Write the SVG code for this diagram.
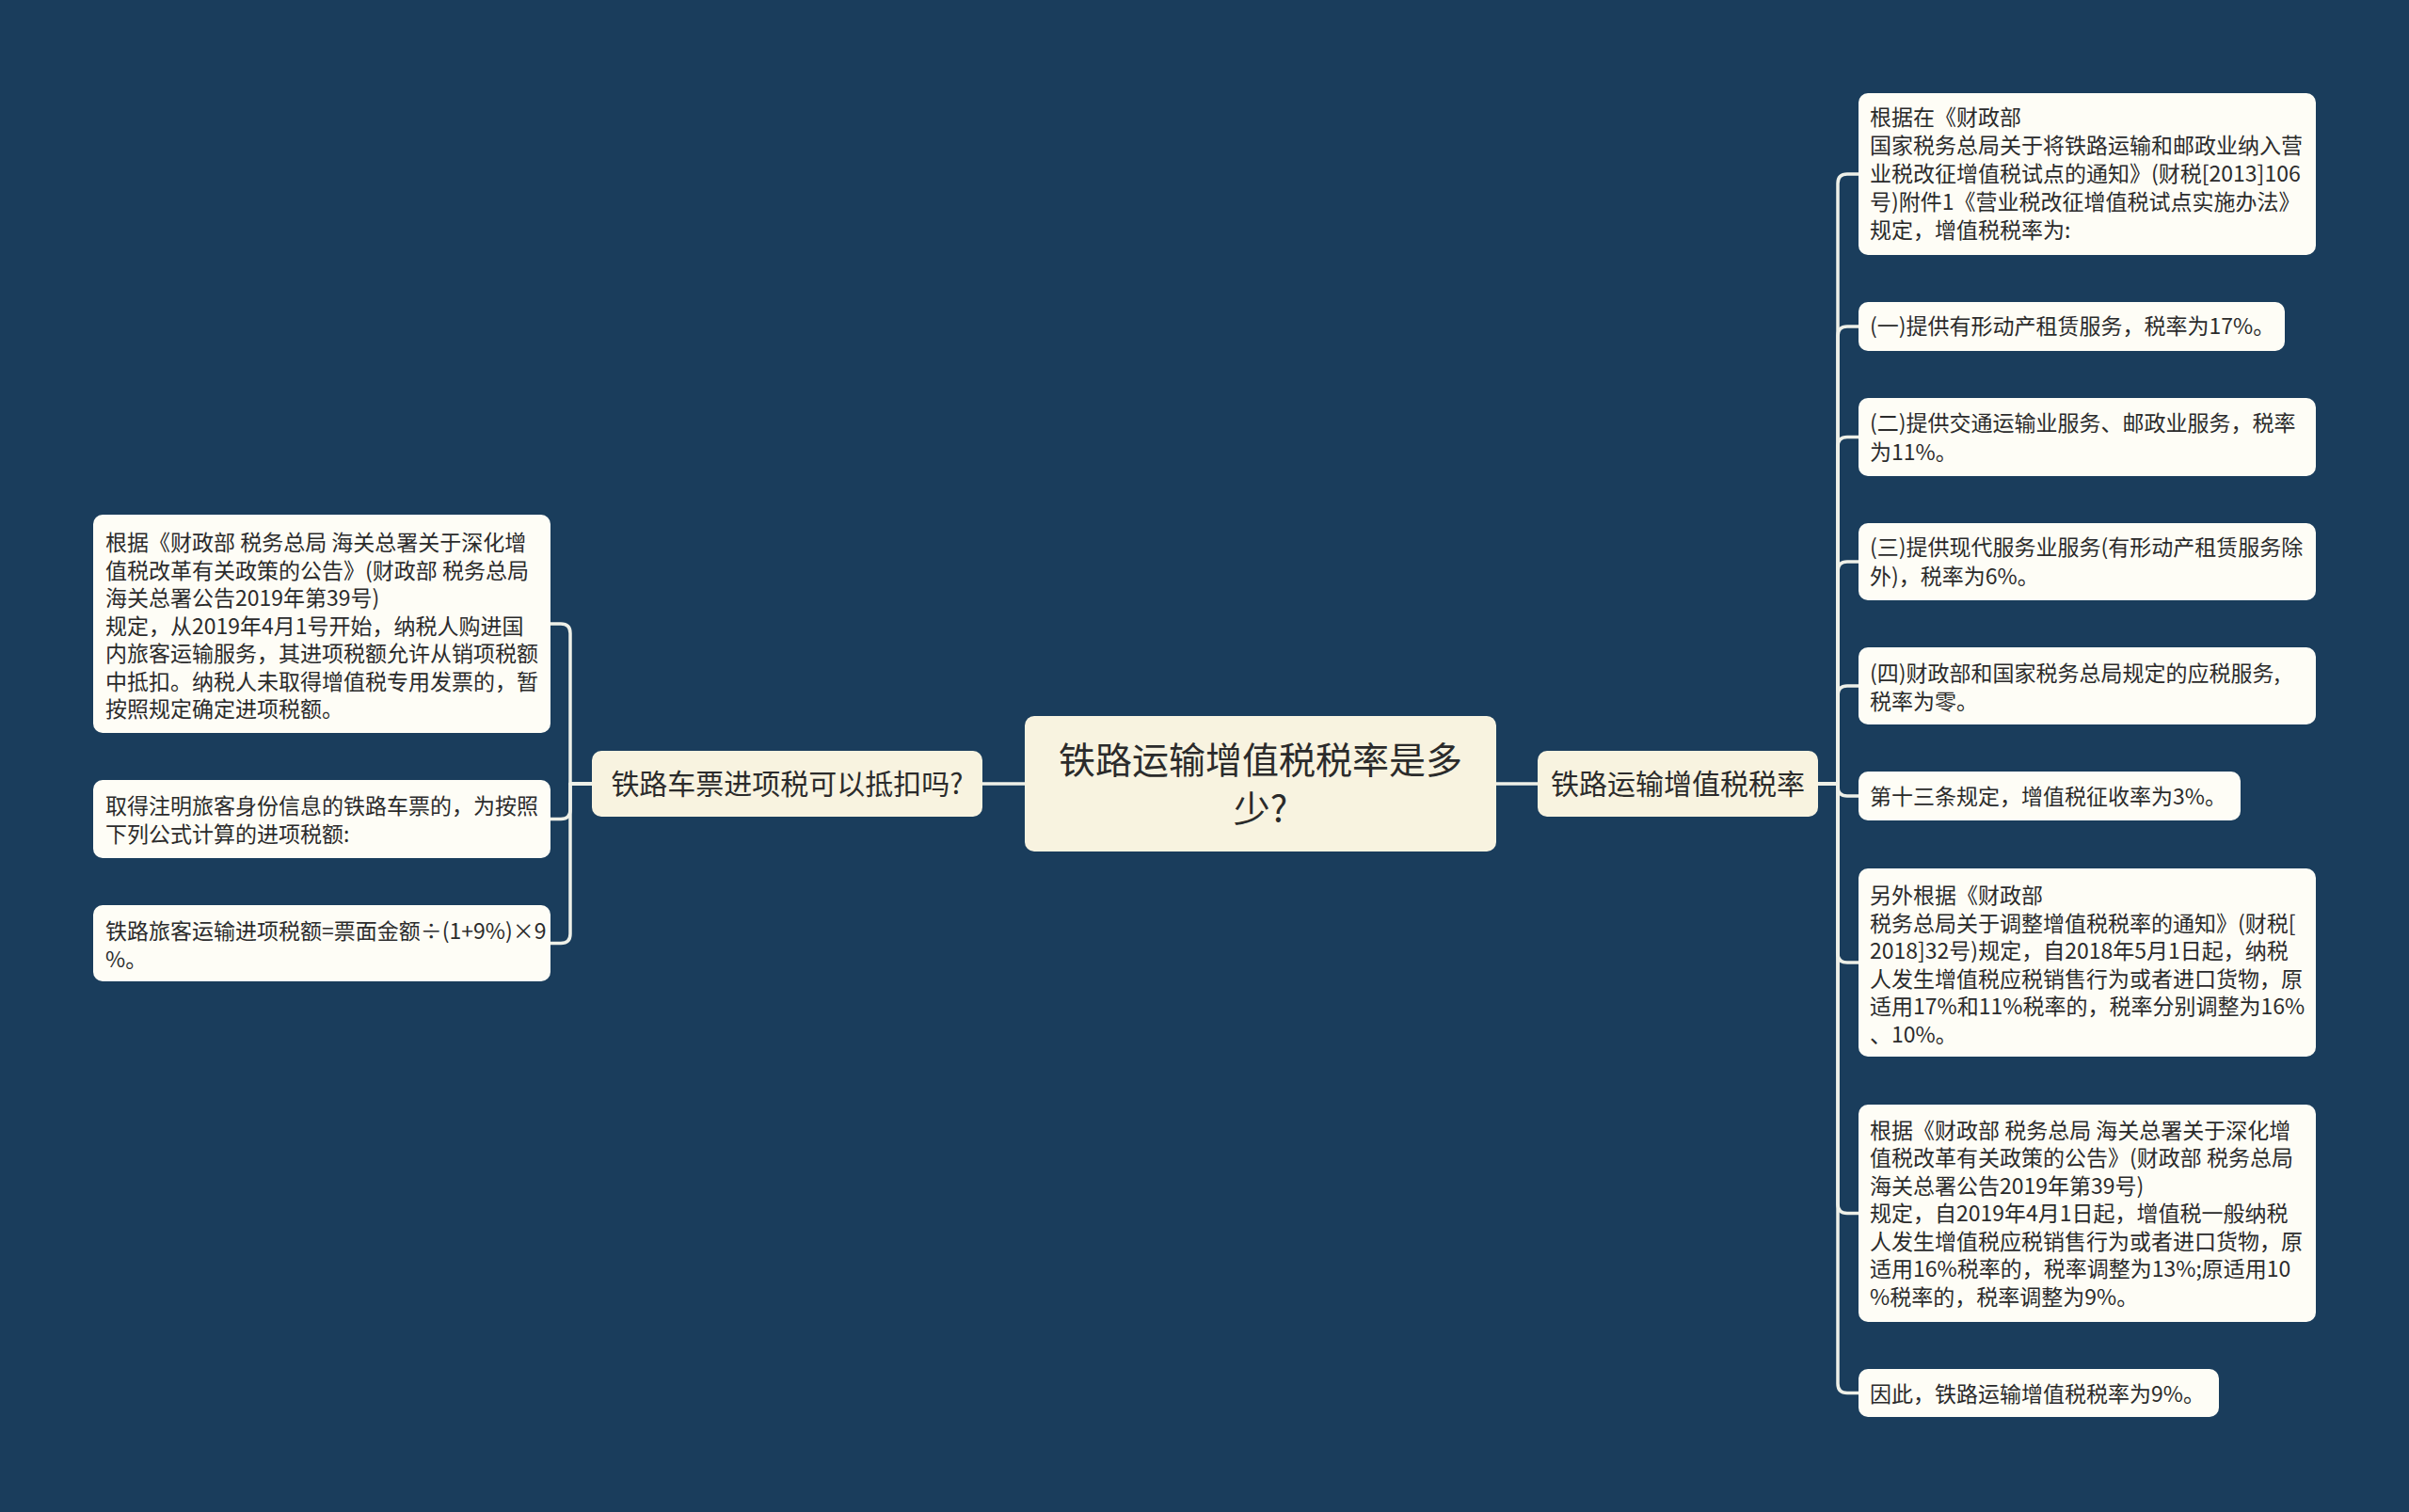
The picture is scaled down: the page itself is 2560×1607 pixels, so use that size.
<svg xmlns="http://www.w3.org/2000/svg" width="2560" height="1607" viewBox="0 0 2560 1607">
<style>
.bg{fill:#1a3d5c}
.root{fill:#f8f3e0}
.branch{fill:#f8f3e0}
.leaf{fill:#fefdf6}
.link{fill:none;stroke:#eef0e8;stroke-width:3.5;stroke-linecap:round;stroke-linejoin:round}
text{font-family:"Noto Sans CJK SC","Noto Sans",sans-serif;fill:#2b2b2b}
.t-root{font-size:39px;text-anchor:middle}
.t-branch{font-size:30px;text-anchor:middle}
.t-leaf{font-size:23px}
</style>
<rect class="bg" x="0" y="0" width="2560" height="1607"/>

<g id="connectors">
  <path class="link" d="M1089,833 H1043"/>
  <path class="link" d="M1590,833 H1634"/>
  <!-- right branch to leaves -->
  <path class="link" d="M1932,833 H1953 V195 Q1953,185 1963,185 H1975"/>
  <path class="link" d="M1932,833 H1953 V357 Q1953,347 1963,347 H1975"/>
  <path class="link" d="M1932,833 H1953 V474.5 Q1953,464.5 1963,464.5 H1975"/>
  <path class="link" d="M1932,833 H1953 V607 Q1953,597 1963,597 H1975"/>
  <path class="link" d="M1932,833 H1953 V739 Q1953,729 1963,729 H1975"/>
  <path class="link" d="M1932,833 H1953 V836 Q1953,846 1963,846 H1975"/>
  <path class="link" d="M1932,833 H1953 V1013 Q1953,1023 1963,1023 H1975"/>
  <path class="link" d="M1932,833 H1953 V1279.5 Q1953,1289.5 1963,1289.5 H1975"/>
  <path class="link" d="M1932,833 H1953 V1470.5 Q1953,1480.5 1963,1480.5 H1975"/>
  <!-- left branch to leaves -->
  <path class="link" d="M629,833 H606 V673 Q606,663 596,663 H585"/>
  <path class="link" d="M629,833 H606 V860.5 Q606,870.5 596,870.5 H585"/>
  <path class="link" d="M629,833 H606 V992.5 Q606,1002.5 596,1002.5 H585"/>
</g>

<g id="root">
  <rect class="root" x="1089" y="761" width="501" height="144" rx="10"/>
  <text class="t-root" x="1339.5" y="822">铁路运输增值税税率是多</text>
  <text class="t-root" x="1339.5" y="874">少?</text>
</g>

<g id="branch-right">
  <rect class="branch" x="1634" y="798" width="298" height="70" rx="10"/>
  <text class="t-branch" x="1783" y="844">铁路运输增值税税率</text>
</g>

<g id="branch-left">
  <rect class="branch" x="629" y="798" width="415" height="70" rx="10"/>
  <text class="t-branch" x="836.5" y="844">铁路车票进项税可以抵扣吗?</text>
</g>

<g id="leaf-r1">
  <rect class="leaf" x="1975" y="99" width="486" height="172" rx="10"/>
  <text class="t-leaf" x="1987" y="133">根据在《财政部</text>
  <text class="t-leaf" x="1987" y="163">国家税务总局关于将铁路运输和邮政业纳入营</text>
  <text class="t-leaf" x="1987" y="193">业税改征增值税试点的通知》(财税[2013]106</text>
  <text class="t-leaf" x="1987" y="223">号)附件1《营业税改征增值税试点实施办法》</text>
  <text class="t-leaf" x="1987" y="253">规定，增值税税率为:</text>
</g>

<g id="leaf-r2">
  <rect class="leaf" x="1975" y="321" width="453" height="52" rx="10"/>
  <text class="t-leaf" x="1987" y="355">(一)提供有形动产租赁服务，税率为17%。</text>
</g>

<g id="leaf-r3">
  <rect class="leaf" x="1975" y="423" width="486" height="83" rx="10"/>
  <text class="t-leaf" x="1987" y="458">(二)提供交通运输业服务、邮政业服务，税率</text>
  <text class="t-leaf" x="1987" y="489">为11%。</text>
</g>

<g id="leaf-r4">
  <rect class="leaf" x="1975" y="556" width="486" height="82" rx="10"/>
  <text class="t-leaf" x="1987" y="590">(三)提供现代服务业服务(有形动产租赁服务除</text>
  <text class="t-leaf" x="1987" y="621">外)，税率为6%。</text>
</g>

<g id="leaf-r5">
  <rect class="leaf" x="1975" y="688" width="486" height="82" rx="10"/>
  <text class="t-leaf" x="1987" y="724">(四)财政部和国家税务总局规定的应税服务,</text>
  <text class="t-leaf" x="1987" y="754">税率为零。</text>
</g>

<g id="leaf-r6">
  <rect class="leaf" x="1975" y="820" width="406" height="52" rx="10"/>
  <text class="t-leaf" x="1987" y="855">第十三条规定，增值税征收率为3%。</text>
</g>

<g id="leaf-r7">
  <rect class="leaf" x="1975" y="923" width="486" height="200" rx="10"/>
  <text class="t-leaf" x="1987" y="960">另外根据《财政部</text>
  <text class="t-leaf" x="1987" y="990">税务总局关于调整增值税税率的通知》(财税[</text>
  <text class="t-leaf" x="1987" y="1019">2018]32号)规定，自2018年5月1日起，纳税</text>
  <text class="t-leaf" x="1987" y="1049">人发生增值税应税销售行为或者进口货物，原</text>
  <text class="t-leaf" x="1987" y="1078">适用17%和11%税率的，税率分别调整为16%</text>
  <text class="t-leaf" x="1987" y="1108">、10%。</text>
</g>

<g id="leaf-r8">
  <rect class="leaf" x="1975" y="1174" width="486" height="231" rx="10"/>
  <text class="t-leaf" x="1987" y="1210">根据《财政部 税务总局 海关总署关于深化增</text>
  <text class="t-leaf" x="1987" y="1239">值税改革有关政策的公告》(财政部 税务总局</text>
  <text class="t-leaf" x="1987" y="1269">海关总署公告2019年第39号)</text>
  <text class="t-leaf" x="1987" y="1298">规定，自2019年4月1日起，增值税一般纳税</text>
  <text class="t-leaf" x="1987" y="1328">人发生增值税应税销售行为或者进口货物，原</text>
  <text class="t-leaf" x="1987" y="1357">适用16%税率的，税率调整为13%;原适用10</text>
  <text class="t-leaf" x="1987" y="1387">%税率的，税率调整为9%。</text>
</g>

<g id="leaf-r9">
  <rect class="leaf" x="1975" y="1455" width="383" height="51" rx="10"/>
  <text class="t-leaf" x="1987" y="1490">因此，铁路运输增值税税率为9%。</text>
</g>

<g id="leaf-l1">
  <rect class="leaf" x="99" y="547" width="486" height="232" rx="10"/>
  <text class="t-leaf" x="112" y="585">根据《财政部 税务总局 海关总署关于深化增</text>
  <text class="t-leaf" x="112" y="614.5">值税改革有关政策的公告》(财政部 税务总局</text>
  <text class="t-leaf" x="112" y="644">海关总署公告2019年第39号)</text>
  <text class="t-leaf" x="112" y="673.5">规定，从2019年4月1号开始，纳税人购进国</text>
  <text class="t-leaf" x="112" y="703">内旅客运输服务，其进项税额允许从销项税额</text>
  <text class="t-leaf" x="112" y="732.5">中抵扣。纳税人未取得增值税专用发票的，暂</text>
  <text class="t-leaf" x="112" y="762">按照规定确定进项税额。</text>
</g>

<g id="leaf-l2">
  <rect class="leaf" x="99" y="829" width="486" height="83" rx="10"/>
  <text class="t-leaf" x="112" y="865">取得注明旅客身份信息的铁路车票的，为按照</text>
  <text class="t-leaf" x="112" y="895">下列公式计算的进项税额:</text>
</g>

<g id="leaf-l3">
  <rect class="leaf" x="99" y="962" width="486" height="81" rx="10"/>
  <text class="t-leaf" x="112" y="998">铁路旅客运输进项税额=票面金额÷(1+9%)×9</text>
  <text class="t-leaf" x="112" y="1028">%。</text>
</g>
</svg>
